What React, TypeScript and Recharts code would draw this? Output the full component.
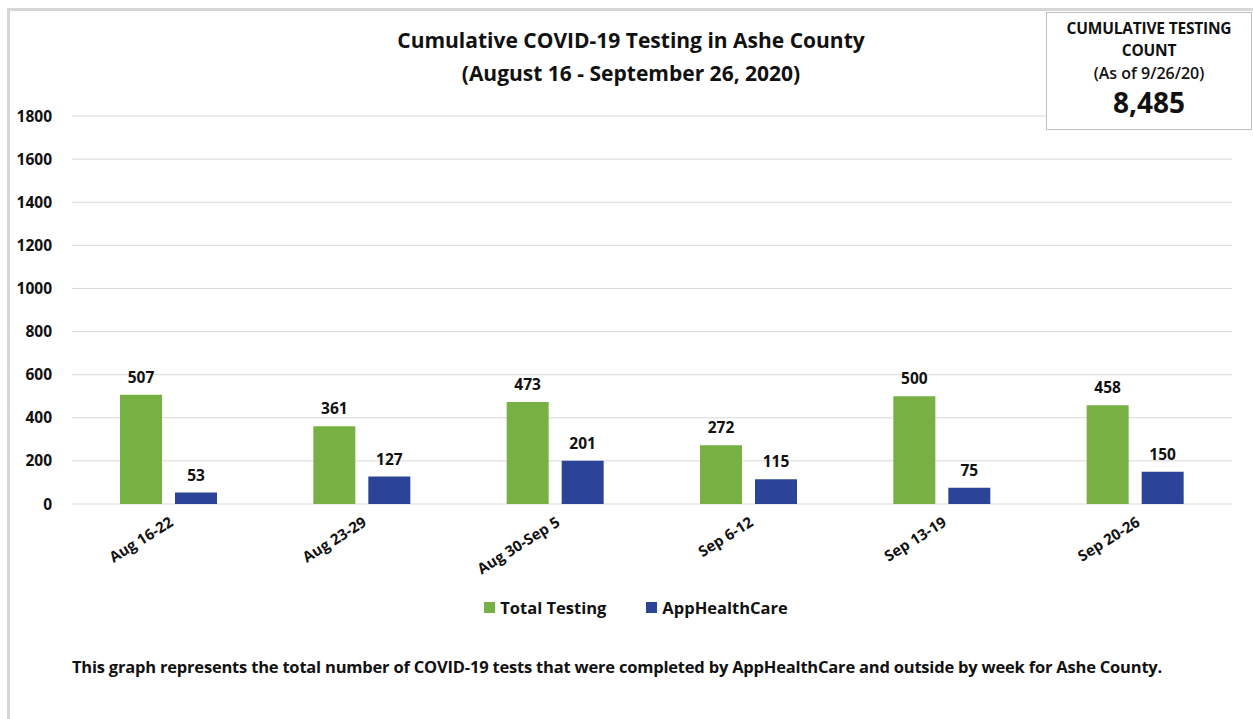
import React from 'react';
import { BarChart, Bar, XAxis, YAxis, CartesianGrid, LabelList } from 'recharts';

const weeks = ['Aug 16-22', 'Aug 23-29', 'Aug 30-Sep 5', 'Sep 6-12', 'Sep 13-19', 'Sep 20-26'];
const totalTesting = [507, 361, 473, 272, 500, 458];
const appHealthCare = [53, 127, 201, 115, 75, 150];
const yTicks = [0, 200, 400, 600, 800, 1000, 1200, 1400, 1600, 1800];

const FONT = '"Open Sans", "Noto Sans", Arial, sans-serif';
const GREEN = '#77b043';
const BLUE = '#2b4497';

const data = weeks.map((week, i) => ({
    week,
    total: totalTesting[i],
    app: appHealthCare[i],
}));

const legendItems = [
    { name: 'Total Testing', color: GREEN },
    { name: 'AppHealthCare', color: BLUE },
];

export default function App() {
    return (
        <div style={{ position: 'absolute', left: 0, top: 0, width: 1253, height: 719, background: '#fff', fontFamily: FONT, overflow: 'hidden' }}>
            {/* outer frame */}
            <div style={{ position: 'absolute', left: 7, top: 8, width: 1260, height: 720, borderLeft: '3px solid #d6d6d6', borderTop: '3px solid #d6d6d6' }} />

            <BarChart
                width={1253}
                height={719}
                data={data}
                margin={{ top: 116, right: 21, bottom: 135, left: 12 }}
                barSize={42}
                barGap={13}
                style={{ position: 'absolute', left: 0, top: 0 }}
            >
                <CartesianGrid vertical={false} stroke="#d9d9d9" />
                <XAxis
                    dataKey="week"
                    axisLine={false}
                    tickLine={false}
                    interval={0}
                    angle={-32}
                    textAnchor="end"
                    tick={{ fill: '#111', fontSize: 15, fontWeight: 700, fontFamily: FONT }}
                    tickMargin={6}
                    height={80}
                />
                <YAxis
                    domain={[0, 1800]}
                    ticks={yTicks}
                    axisLine={false}
                    tickLine={false}
                    tickSize={0}
                    tickMargin={20}
                    width={60}
                    tick={{ fill: '#111', fontSize: 15.5, fontWeight: 700, fontFamily: FONT }}
                />
                <Bar dataKey="total" name="Total Testing" fill={GREEN} isAnimationActive={false}>
                    <LabelList dataKey="total" position="top" offset={12} style={{ fill: '#111', fontSize: 15.5, fontWeight: 700, fontFamily: FONT }} />
                </Bar>
                <Bar dataKey="app" name="AppHealthCare" fill={BLUE} isAnimationActive={false}>
                    <LabelList dataKey="app" position="top" offset={12} style={{ fill: '#111', fontSize: 15.5, fontWeight: 700, fontFamily: FONT }} />
                </Bar>
            </BarChart>

            {/* legend */}
            <div style={{ position: 'absolute', left: 0, top: 596, width: 1272, display: 'flex', justifyContent: 'center', gap: 40, color: '#111', fontWeight: 700, fontSize: 16.5 }}>
                {legendItems.map(item => (
                    <div key={item.name} style={{ display: 'flex', alignItems: 'center' }}>
                        <span style={{ display: 'inline-block', width: 11, height: 11, background: item.color, marginRight: 5 }} />
                        <span>{item.name}</span>
                    </div>
                ))}
            </div>

            <div style={{ position: 'absolute', left: 0, top: 24, width: 1262, textAlign: 'center', fontWeight: 700, fontSize: 21, lineHeight: '33px', color: '#111' }}>
                <div>Cumulative COVID-19 Testing in Ashe County</div>
                <div>(August 16 - September 26, 2020)</div>
            </div>

            <div style={{ position: 'absolute', left: 1046, top: 12, width: 206, height: 118, border: '1px solid #bfbfbf', background: '#fff', boxSizing: 'border-box', textAlign: 'center', color: '#111' }}>
                <div style={{ fontWeight: 700, fontSize: 15.5, lineHeight: '22px', marginTop: 4, letterSpacing: -0.2 }}>CUMULATIVE TESTING<br />COUNT</div>
                <div style={{ fontWeight: 600, fontSize: 16, lineHeight: '24px' }}>(As of 9/26/20)</div>
                <div style={{ fontWeight: 700, fontSize: 28, lineHeight: '34px' }}>8,485</div>
            </div>

            <div style={{ position: 'absolute', left: 0, top: 655, width: 1234, textAlign: 'center', fontWeight: 700, fontSize: 16.5, color: '#111', letterSpacing: -0.2 }}>
                This graph represents the total number of COVID-19 tests that were completed by AppHealthCare and outside by week for Ashe County.
            </div>
        </div>
    );
}
